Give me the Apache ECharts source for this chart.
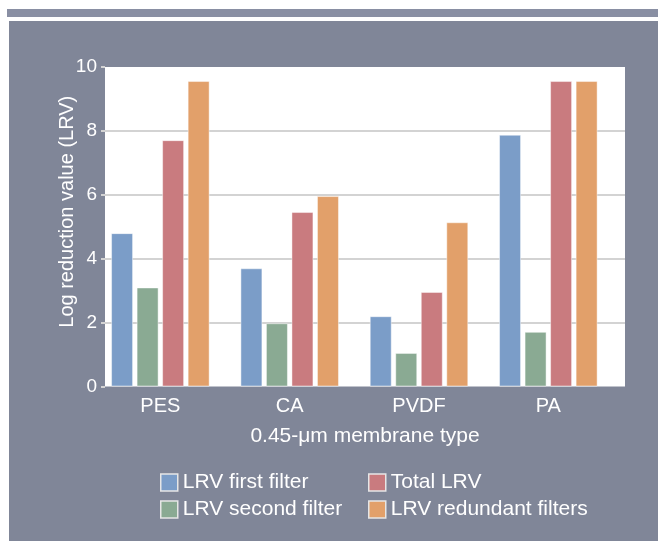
<!DOCTYPE html>
<html><head><meta charset="utf-8">
<script src="https://cdn.jsdelivr.net/npm/echarts@6/dist/echarts.min.js"></script>
<style>
html,body{margin:0;padding:0;background:#fff;}
#wrap{position:relative;width:658px;height:542px;overflow:hidden;}
.band{position:absolute;left:7px;top:9px;width:651px;height:8px;background:#898fa3;}
.panel{position:absolute;left:9px;top:21px;width:649px;height:520px;background:#808698;}
#chart{position:absolute;left:0;top:0;width:658px;height:542px;}
</style></head>
<body><div id="wrap"><div class="band"></div><div class="panel"></div><div id="chart"></div></div>
<script>
const categories = ['PES', 'CA', 'PVDF', 'PA'];
const lrvFirst = [4.8, 3.7, 2.2, 7.88];
const lrvSecond = [3.1, 1.98, 1.05, 1.71];
const totalLrv = [7.71, 5.46, 2.96, 9.56];
const lrvRedundant = [9.56, 5.96, 5.14, 9.56];
const yTicks = [0, 2, 4, 6, 8, 10];

const FONT = '"Liberation Sans", Arial, sans-serif';
const colors = ['#7b9dc8', '#8aaa93', '#c97b7f', '#e2a06a'];
const names = ['LRV first filter', 'LRV second filter', 'Total LRV', 'LRV redundant filters'];
const values = [lrvFirst, lrvSecond, totalLrv, lrvRedundant];

const chart = echarts.init(document.getElementById('chart'), null, {renderer: 'canvas'});
const legendBase = {
  orient: 'vertical', top: 472, padding: 0, itemGap: 6, itemWidth: 17, itemHeight: 17, icon: 'rect',
  textStyle: {color: '#ffffff', fontSize: 21, fontFamily: FONT},
  itemStyle: {borderColor: '#e6e6e6', borderWidth: 1.5}
};
chart.setOption({
  animation: false,
  backgroundColor: 'transparent',
  textStyle: {fontFamily: FONT},
  grid: [
    {left: 105, right: 33, top: 67, bottom: 155.5, show: true, backgroundColor: '#ffffff', borderWidth: 0},
    {left: 95.7, width: 517.3, top: 67, bottom: 155.5}
  ],
  legend: [
    Object.assign({}, legendBase, {left: 160, data: [names[0], names[1]]}),
    Object.assign({}, legendBase, {left: 368, data: [names[2], names[3]]})
  ],
  xAxis: [
    {gridIndex: 0, type: 'category', data: categories,
     axisLine: {show: false}, axisTick: {show: false}, axisLabel: {show: false}, splitLine: {show: false},
     name: '0.45-\u03bcm membrane type', nameLocation: 'middle', nameGap: 39, nameMoveOverlap: false,
     nameTextStyle: {color: '#ffffff', fontSize: 21, fontFamily: FONT}},
    {gridIndex: 1, type: 'category', data: categories,
     axisLine: {show: false}, axisTick: {show: false},
     axisLabel: {color: '#ffffff', fontSize: 20, margin: 10, fontFamily: FONT}}
  ],
  yAxis: [
    {gridIndex: 0, type: 'value', min: yTicks[0], max: yTicks[yTicks.length - 1], interval: 2,
     axisLine: {show: false},
     axisTick: {show: true, length: 4, lineStyle: {color: '#d3d3d3', width: 2}},
     axisLabel: {color: '#ffffff', fontSize: 19, margin: 8, fontFamily: FONT},
     splitLine: {show: true, lineStyle: {color: ['transparent', '#d3d3d3', '#d3d3d3', '#d3d3d3', '#d3d3d3', 'transparent'], width: 2}},
     name: 'Log reduction value (LRV)', nameLocation: 'middle', nameGap: 28, nameMoveOverlap: false,
     nameTextStyle: {color: '#ffffff', fontSize: 20, fontFamily: FONT, padding: [0, 0, 0, 30]}},
    {gridIndex: 1, type: 'value', min: yTicks[0], max: yTicks[yTicks.length - 1], interval: 2, show: false}
  ],
  series: values.map((v, i) => ({
    name: names[i], type: 'bar', xAxisIndex: 1, yAxisIndex: 1, data: v,
    barWidth: 22, barGap: '16%',
    itemStyle: {color: colors[i], borderColor: 'rgba(255,255,255,0.45)', borderWidth: 1}
  }))
});
</script>
</body></html>
